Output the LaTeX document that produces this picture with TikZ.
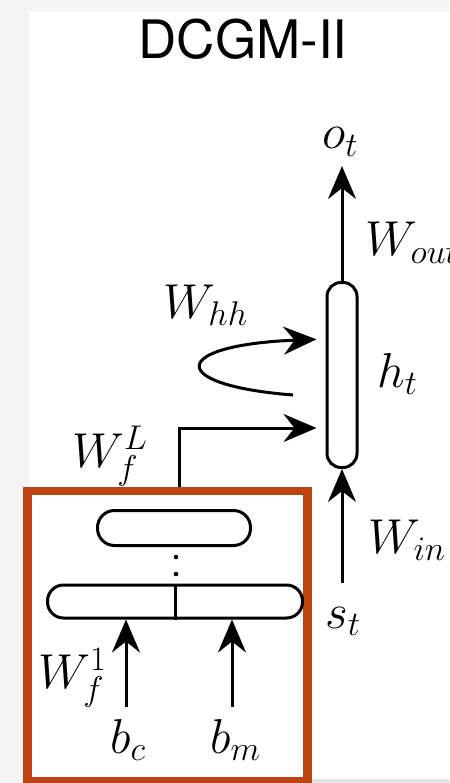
\RequirePackage{fix-cm}
\documentclass[tikz,border=0pt]{standalone}
\usepackage{fontspec}
\newfontfamily\titlefont{TeX Gyre Heros}
\usetikzlibrary{arrows.meta}
\definecolor{boxred}{RGB}{191,67,16}
\definecolor{bggray}{RGB}{243,243,243}
\definecolor{stripgray}{RGB}{228,228,228}
\begin{document}
\begin{tikzpicture}[x=1pt,y=-1pt,
  conn/.style={line width=3pt, -{Stealth[length=33pt,width=28pt,inset=11pt]}},
  plainline/.style={line width=3pt},
  capsule/.style={draw, line width=3pt, fill=white, inner sep=0pt},
  lbl/.style={font=\fontsize{49}{56}\selectfont, inner sep=0pt}]
\useasboundingbox (0,0) rectangle (449,783);
\fill[bggray] (0,0) rectangle (449,783);
\fill[white] (29,11) rectangle (449,779);
\fill[stripgray] (311,779) rectangle (449,783);
% title
\node[font=\titlefont\fontsize{53}{60}\selectfont, inner sep=0pt] (title) at (243,39) {DCGM-II};
% hidden state
\node[capsule, rounded corners=14pt, minimum width=30pt, minimum height=185pt] (ht) at (342,375) {};
% red frame
\node[draw=boxred, line width=8.5pt, minimum width=280pt, minimum height=290pt, inner sep=0pt] (fbox) at (167.5,636) {};
% layers
\node[capsule, rounded corners=17pt, minimum width=153pt, minimum height=35pt] (top) at (174,528) {};
\node[capsule, rounded corners=16pt, minimum width=255pt, minimum height=33pt] (bot) at (175,601.5) {};
\draw[plainline] (bot.north) -- (bot.south);
\fill (176,557) circle (2.3pt);
\fill (176,574) circle (2.3pt);
% labels
\node[lbl, anchor=base west] (ot) at (322,149) {$o_t$};
\node[lbl, anchor=base west] (wout) at (365,256) {$W_{out}$};
\node[lbl, anchor=base west] (htl) at (377,387) {$h_t$};
\node[lbl, anchor=base west] (win) at (368,553) {$W_{in}$};
\node[lbl, anchor=base west] (st) at (325,628) {$s_t$};
\node[lbl, anchor=base west] (whh) at (163,318) {$W_{hh}$};
\node[lbl, anchor=base west] (wfl) at (72,467) {$W_f^L$};
\node[lbl, anchor=base west] (wf1) at (38,688) {$W_f^1$};
\node[lbl, anchor=base west] (bc) at (110,753) {$b_c$};
\node[lbl, anchor=base west] (bm) at (210,753) {$b_m$};
% coordinates
\coordinate (otip) at (342,166);
\coordinate (sin) at (342,583);
\coordinate (hhs) at (293,395);
\coordinate (hhe) at (317,339);
\coordinate (fturn) at (179,428);
\coordinate (cbl) at (126,707);
\coordinate (cbr) at (232,707);
% connectors
\draw[conn] (ht.north) -- (otip);
\draw[conn] (sin) -- (ht.south);
\draw[conn, shorten >=9pt] (hhs) .. controls (165,385) and (170,345) .. (hhe -| ht.west);
\draw[conn, shorten >=9pt] (fbox.north -| fturn) -- (fturn) -- (fturn -| ht.west);
\draw[conn] (cbl) -- (cbl |- bot.south);
\draw[conn] (cbr) -- (cbr |- bot.south);
\end{tikzpicture}
\end{document}
